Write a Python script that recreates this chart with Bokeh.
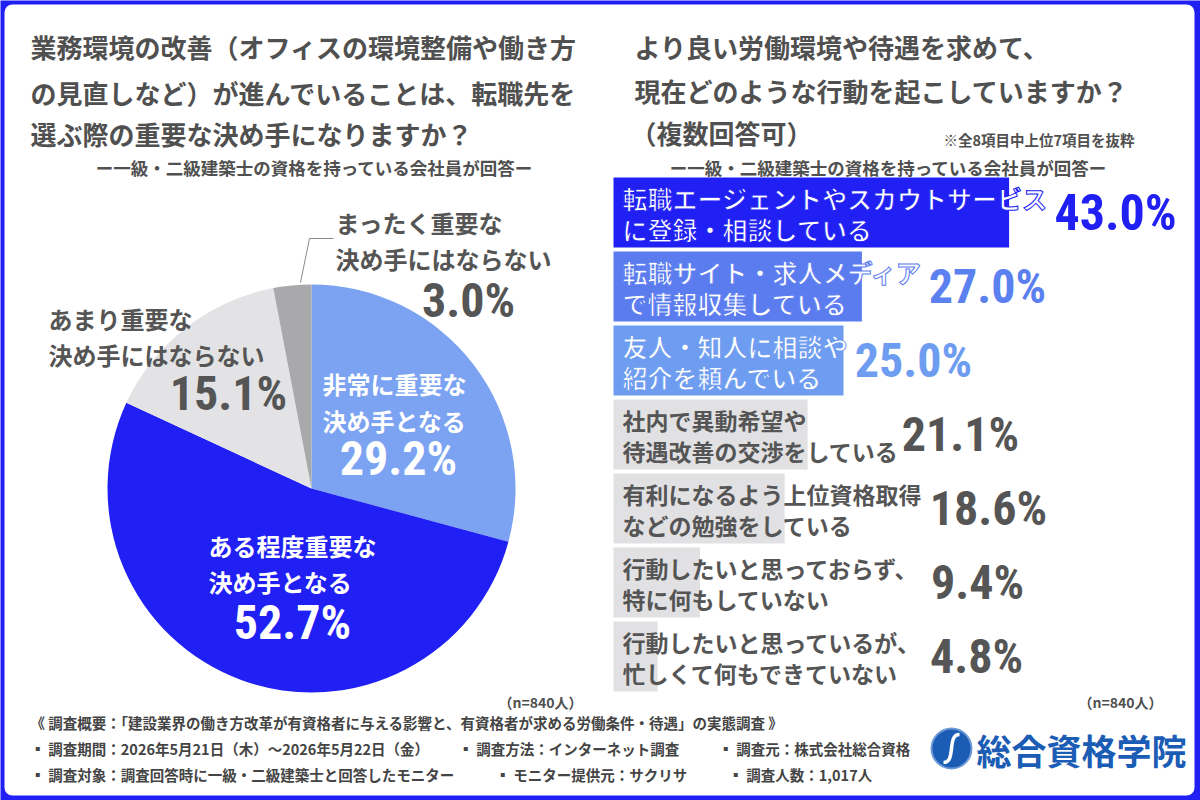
import numpy as np
from bokeh.plotting import figure
from bokeh.models import Range1d, ColumnDataSource
from bokeh.core.properties import value
from bokeh.embed import file_html
from bokeh.resources import INLINE

# ---- data -------------------------------------------------------------
pie_labels = [
    ["非常に重要な", "決め手となる"],
    ["ある程度重要な", "決め手となる"],
    ["あまり重要な", "決め手にはならない"],
    ["まったく重要な", "決め手にはならない"],
]
pie_values = [29.2, 52.7, 15.1, 3.0]

bar_line1 = [
    "転職エージェントやスカウトサービス",
    "転職サイト・求人メディア",
    "友人・知人に相談や",
    "社内で異動希望や",
    "有利になるよう上位資格取得",
    "行動したいと思っておらず、",
    "行動したいと思っているが、",
]
bar_line2 = [
    "に登録・相談している",
    "で情報収集している",
    "紹介を頼んでいる",
    "待遇改善の交渉をしている",
    "などの勉強をしている",
    "特に何もしていない",
    "忙しくて何もできていない",
]
bar_values = [43.0, 27.0, 25.0, 21.1, 18.6, 9.4, 4.8]

n_label = "（n=840人）"

# ---- style ------------------------------------------------------------
W, H = 1200, 800
BLUE = "#2020F4"
PIE_COLORS = ["#7BA3F2", BLUE, "#E3E3E5", "#A9A9AB"]
BAR_COLORS = [BLUE, "#5B7CEF", "#6D9CF0", "#E1E1E3", "#E1E1E3", "#E1E1E3", "#E1E1E3"]
VAL_COLORS = [BLUE, "#5B80EF", "#6D9CF0", "#555555", "#555555", "#555555", "#555555"]
LBL_COLORS = ["white", "white", "white", "#555555", "#555555", "#555555", "#555555"]
LBL_OUTLINE = [BLUE, "#5B7CEF", "#6D9CF0", None, None, None, None]
TXT = "#505050"
JP = value("Noto Sans CJK JP")
NUM = value("'Roboto Condensed', 'Liberation Sans Narrow', 'DejaVu Sans Condensed', Roboto")
LOGO = "#1B5CB5"


def ty(y):
    """Convert a top-based pixel offset into the plot's y coordinate."""
    return H - np.asarray(y, dtype=float)


p = figure(width=W, height=H, x_range=Range1d(0, W), y_range=Range1d(0, H),
           x_axis_location=None, y_axis_location=None, toolbar_location=None,
           output_backend="svg", min_border=0)
p.grid.visible = False
p.outline_line_color = None
p.background_fill_color = BLUE
p.border_fill_color = BLUE

# white card inside the blue frame
p.quad(left=4, right=W - 6, bottom=5, top=H - 4, fill_color="white",
       line_color=None, border_radius=8)

# ---- titles -----------------------------------------------------------
left_title = [
    "業務環境の改善（オフィスの環境整備や働き方",
    "の見直しなど）が進んでいることは、転職先を",
    "選ぶ際の重要な決め手になりますか？",
]
p.text(x=[30] * 3, y=ty([46, 92, 133]), text=left_title, text_font=JP,
       text_font_style="bold", text_font_size="26px", text_color=TXT,
       text_baseline="middle")

subtitle = "ー一級・二級建築士の資格を持っている会社員が回答ー"
p.text(x=[314, 888], y=ty([167, 167]), text=[subtitle, subtitle], text_font=JP,
       text_font_style="bold", text_font_size="17.5px", text_color=TXT,
       text_align="center", text_baseline="middle")

right_title = [
    "より良い労働環境や待遇を求めて、",
    "現在どのような行動を起こしていますか？",
    "（複数回答可）",
]
p.text(x=[634, 634, 630], y=ty([46, 90, 132]), text=right_title, text_font=JP,
       text_font_style="bold", text_font_size="26px", text_color=TXT,
       text_baseline="middle")
p.text(x=[943], y=ty([139]), text=["※全8項目中上位7項目を抜粋"], text_font=JP,
       text_font_style="bold", text_font_size="14.5px", text_color=TXT,
       text_baseline="middle")

# ---- pie --------------------------------------------------------------
CX, CY, R = 311, 488, 204
frac = np.cumsum([0.0] + pie_values) / sum(pie_values)
starts = np.pi / 2 - 2 * np.pi * frac[:-1]
ends = np.pi / 2 - 2 * np.pi * frac[1:]
pie_src = ColumnDataSource(dict(start=starts, end=ends, color=PIE_COLORS))
p.wedge(x=CX, y=float(ty(CY)), radius=R, radius_units="screen",
        start_angle="start", end_angle="end", direction="clock",
        fill_color="color", line_color=None, source=pie_src)

# leader for the smallest slice
p.line(x=[300, 309, 333], y=ty([282, 238, 238]), line_color="#8A8A8A", line_width=1)

pie_text_pos = [  # (name x, line1 y, line2 y, pct x, pct y, colour)
    (322, 383, 420, 398, 458, "white"),
    (208, 545, 581, 292, 622, "white"),
    (48, 318, 354, 228, 393, "#555555"),
    (335, 222, 258, 468, 300, "#555555"),
]
for (lx, y1, y2, px, py, col), lines, v in zip(pie_text_pos, pie_labels, pie_values):
    p.text(x=[lx, lx], y=ty([y1, y2]), text=lines, text_font=JP,
           text_font_style="bold", text_font_size="24px", text_color=col,
           text_baseline="middle")
    p.text(x=[px], y=ty([py]), text=[f"{v:.1f}%"], text_font=NUM,
           text_font_style="bold", text_font_size="48px", text_color=col,
           text_align="center", text_baseline="middle")

# ---- bars -------------------------------------------------------------
BAR_X0, PX_PER_PCT = 613, 9.2
ROW0, PITCH = 212, 74
p.extra_x_ranges = {"pct": Range1d(-BAR_X0 / PX_PER_PCT, (W - BAR_X0) / PX_PER_PCT)}
p.extra_y_ranges = {"rows": Range1d((H - ROW0) / PITCH, -ROW0 / PITCH)}

rows = np.arange(len(bar_values))
bar_src = ColumnDataSource(dict(row=rows, val=bar_values, color=BAR_COLORS))
p.hbar(y="row", left=0, right="val", height=70 / PITCH, fill_color="color",
       line_color=None, source=bar_src, x_range_name="pct", y_range_name="rows")

for i in rows:
    size = "25px" if i < 3 else "23px"
    kw = dict(text_font=JP, text_font_style="bold", text_font_size=size,
              text_color=LBL_COLORS[i], text_baseline="middle",
              y_range_name="rows")
    if LBL_OUTLINE[i]:
        kw["text_outline_color"] = LBL_OUTLINE[i]
    p.text(x=[622, 622], y=[i - 15 / PITCH, i + 16 / PITCH],
           text=[bar_line1[i], bar_line2[i]], **kw)

VAL_X = [1115, 987, 913, 960, 988, 977, 976]
for i in rows:
    p.text(x=[VAL_X[i]], y=[i], text=[f"{bar_values[i]:.1f}%"], text_font=NUM,
           text_font_style="bold", text_font_size="48px" if i else "50px",
           text_color=VAL_COLORS[i], text_align="center",
           text_baseline="middle", y_range_name="rows")

# ---- sample sizes -----------------------------------------------------
p.text(x=[582, 1162], y=ty([701, 701]), text=[n_label, n_label], text_font=JP,
       text_font_style="bold", text_font_size="14px", text_color=TXT,
       text_align="right", text_baseline="middle")

# ---- survey notes -----------------------------------------------------
notes = [
    (30, 722, "《 調査概要：「建設業界の働き方改革が有資格者に与える影響と、有資格者が求める労働条件・待遇」の実態調査 》"),
    (30, 748, "▪ 調査期間：2026年5月21日（木）〜2026年5月22日（金）"),
    (458, 748, "▪ 調査方法：インターネット調査"),
    (718, 748, "▪ 調査元：株式会社総合資格"),
    (30, 774, "▪ 調査対象：調査回答時に一級・二級建築士と回答したモニター"),
    (495, 774, "▪ モニター提供元：サクリサ"),
    (728, 774, "▪ 調査人数：1,017人"),
]
p.text(x=[n[0] for n in notes], y=ty([n[1] for n in notes]),
       text=[n[2] for n in notes], text_font=JP, text_font_style="bold",
       text_font_size="14.5px", text_color="#444444", text_baseline="middle")

# ---- logo -------------------------------------------------------------
p.scatter(x=[951], y=ty([748]), size=40, marker="circle", fill_color=LOGO,
          line_color="#6E9AD8", line_width=2)
p.bezier(x0=[943], y0=ty([762]), x1=[959], y1=ty([734]),
         cx0=[956], cy0=ty([762]), cx1=[946], cy1=ty([734]),
         line_color="white", line_width=3.5)
p.text(x=[976], y=ty([749]), text=["総合資格学院"], text_font=JP,
       text_font_style="bold", text_font_size="35px", text_color=LOGO,
       text_baseline="middle")

open("out.html", "w").write(file_html(p, INLINE))
